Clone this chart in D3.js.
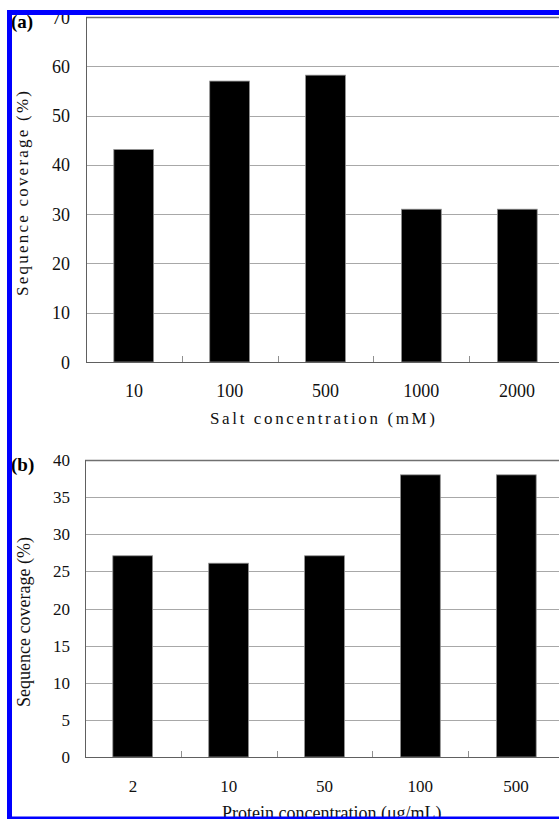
<!DOCTYPE html>
<html>
<head>
<meta charset="utf-8">
<script src="https://cdn.jsdelivr.net/npm/d3@7"></script>
<style>
  body { margin: 0; background: #fff; }
  svg { display: block; }
</style>
</head>
<body>
<svg id="stage" width="559" height="819"></svg>
<script>
var svg = d3.select("#stage");

// data
var saltLabels = ["10", "100", "500", "1000", "2000"];
var saltCoverage = [43.1, 57, 58.2, 31, 31];
var saltTicks = [0, 10, 20, 30, 40, 50, 60, 70];

var proteinLabels = ["2", "10", "50", "100", "500"];
var proteinCoverage = [27.1, 26.1, 27.1, 38, 38];
var proteinTicks = [0, 5, 10, 15, 20, 25, 30, 35, 40];

var serif = "'Liberation Serif', 'Times New Roman', serif";

////////////////////////////// DRAW ONE PANEL

var drawPanel = function(opt) {
  var g = svg.append("g");

  var x = d3.scaleBand()
      .domain(opt.labels)
      .range([opt.left, opt.right])
      .paddingInner(0.585)
      .paddingOuter(0.29);

  var bands = d3.scaleBand().domain(opt.labels).range([opt.left, opt.right]);

  var y = d3.scaleLinear()
      .domain([0, opt.max])
      .range([opt.bottom, opt.top]);

  // grid
  g.selectAll("line.grid")
    .data(opt.ticks.filter(function(t){ return t > 0 && t < opt.max; }))
    .enter().append("line")
      .attr("class", "grid")
      .attr("x1", opt.left).attr("x2", opt.right)
      .attr("y1", function(d){ return Math.round(y(d)) + 0.5; })
      .attr("y2", function(d){ return Math.round(y(d)) + 0.5; })
      .attr("stroke", "#a8a8a8");

  // plot frame top
  g.append("line")
    .attr("x1", opt.left).attr("x2", opt.right)
    .attr("y1", Math.round(y(opt.max)) + 0.5).attr("y2", Math.round(y(opt.max)) + 0.5)
    .attr("stroke", "#707070").attr("stroke-width", 1.3);

  // bars
  g.selectAll("rect.bar")
    .data(opt.values)
    .enter().append("rect")
      .attr("class", "bar")
      .attr("x", function(d, i){ return x(opt.labels[i]); })
      .attr("width", x.bandwidth())
      .attr("y", function(d){ return y(d); })
      .attr("height", function(d){ return opt.bottom - y(d); })
      .attr("fill", "#000")
      .attr("stroke", "#909090")
      .attr("stroke-width", 0.8);

  // x axis line + inner ticks between categories
  g.append("line")
    .attr("x1", opt.left).attr("x2", opt.right)
    .attr("y1", opt.bottom + 0.5).attr("y2", opt.bottom + 0.5)
    .attr("stroke", "#606060");

  g.selectAll("line.xtick")
    .data(opt.labels.slice(1))
    .enter().append("line")
      .attr("class", "xtick")
      .attr("x1", function(d){ return Math.round(bands(d)) + 0.5; })
      .attr("x2", function(d){ return Math.round(bands(d)) + 0.5; })
      .attr("y1", opt.bottom - 6).attr("y2", opt.bottom)
      .attr("stroke", "#909090");

  // y axis line
  g.append("line")
    .attr("x1", opt.left + 0.5).attr("x2", opt.left + 0.5)
    .attr("y1", opt.top).attr("y2", opt.bottom + 1)
    .attr("stroke", "#606060");

  // y tick labels
  g.selectAll("text.ylab")
    .data(opt.ticks)
    .enter().append("text")
      .attr("class", "ylab")
      .attr("x", 70)
      .attr("y", function(d){ return y(d) + opt.tickDy; })
      .attr("text-anchor", "end")
      .attr("style", "font-family:" + serif + "; font-size:" + opt.tickSize + "px; fill:#111")
      .text(function(d){ return d; });

  // x tick labels
  g.selectAll("text.xlab")
    .data(opt.labels)
    .enter().append("text")
      .attr("class", "xlab")
      .attr("x", function(d){ return bands(d) + bands.bandwidth() / 2; })
      .attr("y", opt.xLabelY)
      .attr("text-anchor", "middle")
      .attr("style", "font-family:" + serif + "; font-size:" + opt.tickSize + "px; fill:#111")
      .text(function(d){ return d; });

  // axis titles
  var xt = g.append("text")
    .attr("x", opt.xTitleX)
    .attr("y", opt.xTitleY)
    .attr("text-anchor", "start")
    .attr("style", "font-family:" + serif + "; font-size:" + opt.titleSize + "px; fill:#111")
    .text(opt.xTitle);
  if (opt.xTitleLen) xt.attr("textLength", opt.xTitleLen).attr("lengthAdjust", "spacing");

  var yt = g.append("text")
    .attr("transform", "translate(" + opt.yTitleX + "," + opt.yTitleY + ") rotate(-90)")
    .attr("text-anchor", "start")
    .attr("style", "font-family:" + serif + "; font-size:" + opt.titleSize + "px; fill:#111")
    .text(opt.yTitle);
  if (opt.yTitleLen) yt.attr("textLength", opt.yTitleLen).attr("lengthAdjust", "spacing");

  // panel letter
  g.append("text")
    .attr("x", 11)
    .attr("y", opt.letterY)
    .attr("style", "font-family:" + serif + "; font-size:19px; font-weight:bold; fill:#000")
    .text(opt.letter);
};

drawPanel({
  labels: saltLabels, values: saltCoverage, ticks: saltTicks, max: 70,
  left: 86, right: 565, top: 17, bottom: 362,
  tickSize: 18, tickDy: 6.5, xLabelY: 397,
  titleSize: 17,
  xTitle: "Salt concentration (mM)", xTitleX: 210, xTitleY: 424, xTitleLen: 225,
  yTitle: "Sequence coverage (%)", yTitleX: 28, yTitleY: 296, yTitleLen: 205,
  letter: "(a)", letterY: 28
});

drawPanel({
  labels: proteinLabels, values: proteinCoverage, ticks: proteinTicks, max: 40,
  left: 85, right: 564, top: 460, bottom: 757,
  tickSize: 17, tickDy: 6, xLabelY: 792,
  titleSize: 18,
  xTitle: "Protein concentration (\u03bcg/mL)", xTitleX: 222, xTitleY: 819,
  yTitle: "Sequence coverage (%)", yTitleX: 30, yTitleY: 707,
  letter: "(b)", letterY: 471
});

////////////////////////////// BLUE FRAME (drawn on top)

var frame = svg.append("g").attr("fill", "#0000ff");
frame.append("rect").attr("x", 7).attr("y", 10).attr("width", 552).attr("height", 5);
frame.append("rect").attr("x", 7).attr("y", 10).attr("width", 5).attr("height", 809);
frame.append("rect").attr("x", 7).attr("y", 816.5).attr("width", 552).attr("height", 3);
</script>
</body>
</html>
